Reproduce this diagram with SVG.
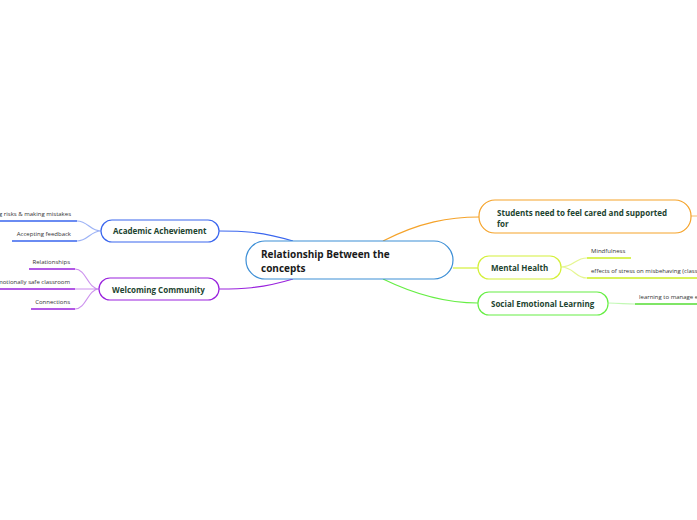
<svg xmlns="http://www.w3.org/2000/svg" width="697" height="520" viewBox="0 0 697 520">
<style>
text{font-variant-ligatures:none;font-feature-settings:"liga" 0,"clig" 0}
.node{fill:#fff;stroke-width:1.2}
.t{font-family:"Open Sans","Noto Sans",sans-serif;font-weight:bold;font-size:8px;fill:#1d4430}
.c{font-family:"Open Sans","Noto Sans",sans-serif;font-weight:bold;font-size:10px;fill:#1a1a1a}
.s{font-family:"Open Sans","Noto Sans",sans-serif;font-size:6px;fill:#333}
.ln{fill:none;stroke-width:1.2}
.ul{fill:none;stroke-width:1.5}
</style>
<rect width="697" height="520" fill="#fff"/>
<g id="connectors">
<path class="ln" d="M293,241 C260,231 240,231 219,231" stroke="#3a66ee"/>
<path class="ln" d="M293,279 C260,289 240,289 219,289" stroke="#9922dd"/>
<path class="ln" d="M383,241 C420,222 450,217 479,217" stroke="#f5a32a"/>
<path class="ln" d="M453,268 L478,268" stroke="#d4f03a"/>
<path class="ln" d="M383,279 C420,297 450,303 478,303" stroke="#66ee44"/>
<path class="ln" d="M691,216 L697,216" stroke="#f5a32a" opacity="0.6"/>
<path class="ln" d="M101,231 C90,231 88,221 77,221 M101,231 C90,231 88,241 77,241" stroke="#3a66ee" opacity="0.5"/>
<path class="ul" d="M0,221 L77,221 M12,241 L77,241" stroke="#3a66ee"/>
<path class="ln" d="M99,289 C88,289 86,269 75,269 M99,289 L75,289 M99,289 C88,289 86,309 75,309" stroke="#9922dd" opacity="0.5"/>
<path class="ul" d="M29,269 L75,269 M0,289 L75,289 M31,309 L75,309" stroke="#9922dd"/>
<path class="ln" d="M561,267 C574,267 575,258 587,258 M561,267 C574,267 575,278 587,278" stroke="#ccee22" opacity="0.5"/>
<path class="ul" d="M587,258 L631,258 M587,278 L697,278" stroke="#ccee22"/>
<path class="ln" d="M608,303 C620,303 625,304 635,304" stroke="#66ee44" opacity="0.4"/>
<path class="ul" d="M635,304 L697,304" stroke="#55dd33"/>
</g>
<g id="central">
<rect class="node" x="246" y="241" width="207" height="38" rx="19" stroke="#3d8fd6"/>
<text class="c" x="261" y="258">Relationship Between the</text>
<text class="c" x="261" y="272">concepts</text>
</g>
<g id="students">
<rect class="node" x="479" y="200" width="212" height="33" rx="16" stroke="#f5a32a"/>
<text class="t" x="497" y="216">Students need to feel cared and supported</text>
<text class="t" x="497" y="227">for</text>
</g>
<g id="mental">
<rect class="node" x="478" y="256" width="83" height="23" rx="11" stroke="#d4f03a"/>
<text class="t" x="491" y="271">Mental Health</text>
</g>
<g id="sel">
<rect class="node" x="478" y="292" width="130" height="23" rx="11" stroke="#66ee44"/>
<text class="t" x="491" y="307">Social Emotional Learning</text>
</g>
<g id="academic">
<rect class="node" x="101" y="220" width="118" height="22" rx="11" stroke="#3a66ee"/>
<text class="t" x="113" y="234">Academic Acheviement</text>
</g>
<g id="welcoming">
<rect class="node" x="99" y="278" width="120" height="22" rx="11" stroke="#9922dd"/>
<text class="t" x="112" y="293">Welcoming Community</text>
</g>
<g id="sub-risks"><text class="s" x="71" y="216" text-anchor="end">Taking risks &amp; making mistakes</text></g>
<g id="sub-feedback"><text class="s" x="71" y="236" text-anchor="end">Accepting feedback</text></g>
<g id="sub-relationships"><text class="s" x="70" y="264" text-anchor="end">Relationships</text></g>
<g id="sub-safe"><text class="s" x="70" y="284" text-anchor="end">Emotionally safe classroom</text></g>
<g id="sub-connections"><text class="s" x="70" y="304" text-anchor="end">Connections</text></g>
<g id="sub-mindfulness"><text class="s" x="591" y="253">Mindfulness</text></g>
<g id="sub-effects"><text class="s" x="591" y="273">effects of stress on misbehaving (classroom)</text></g>
<g id="sub-manage"><text class="s" x="639" y="299">learning to manage emotions</text></g>
</svg>
